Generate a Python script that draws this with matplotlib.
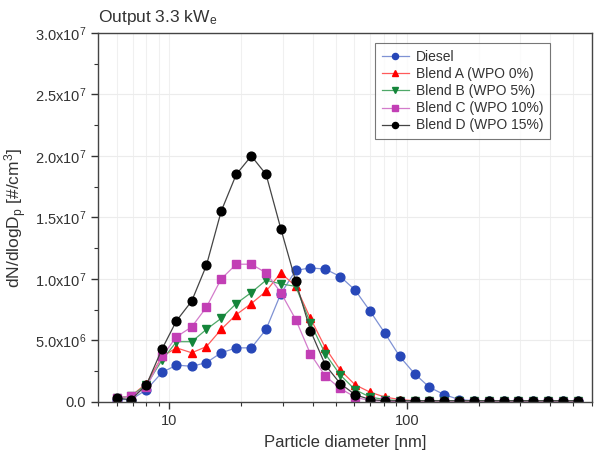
import numpy as np
import matplotlib
matplotlib.use("Agg")
import matplotlib.pyplot as plt
from matplotlib.ticker import FuncFormatter, MultipleLocator, LogLocator, NullFormatter

plt.rcParams['font.family'] = ['Liberation Sans', 'DejaVu Sans']
plt.rcParams['mathtext.fontset'] = 'custom'
plt.rcParams['mathtext.rm'] = 'Liberation Sans'
plt.rcParams['mathtext.it'] = 'Liberation Sans'

# SMPS channel diameters [nm]
diam = [6.0, 6.9, 8.0, 9.3, 10.7, 12.4, 14.3, 16.5, 19.1, 22.1, 25.5, 29.4,
        34.0, 39.2, 45.3, 52.3, 60.4, 69.8, 80.6, 93.1, 107.5, 124.1, 143.3,
        165.5, 191.1, 220.7, 254.8, 294.3, 339.8, 392.4, 453.1, 523.3]

# dN/dlogDp, in units of 1e7 #/cm3
diesel = [0.02, 0.02, 0.10, 0.24, 0.30, 0.29, 0.32, 0.40, 0.44, 0.44, 0.59, 0.88,
          1.07, 1.09, 1.08, 1.02, 0.91, 0.74, 0.56, 0.37, 0.23, 0.12, 0.06, 0.02,
          0.01, 0.01, 0.01, 0.01, 0.01, 0.01, 0.01, 0.01]
blend_a = [0.03, 0.05, 0.15, 0.37, 0.44, 0.40, 0.45, 0.59, 0.71, 0.80, 0.90, 1.05,
           0.94, 0.68, 0.44, 0.26, 0.14, 0.08, 0.04, 0.02, 0.01, 0.01, 0.01, 0.01,
           0.01, 0.01, 0.01, 0.01, 0.01, 0.01, 0.01, 0.01]
blend_b = [0.03, 0.05, 0.14, 0.34, 0.49, 0.49, 0.59, 0.68, 0.80, 0.89, 0.99, 0.96,
           0.94, 0.64, 0.39, 0.22, 0.10, 0.04, 0.02, 0.01, 0.01, 0.01, 0.01, 0.01,
           0.01, 0.01, 0.01, 0.01, 0.01, 0.01, 0.01, 0.01]
blend_c = [0.03, 0.05, 0.12, 0.37, 0.53, 0.61, 0.77, 1.00, 1.12, 1.12, 1.05, 0.89,
           0.67, 0.39, 0.21, 0.11, 0.04, 0.01, 0.01, 0.00, 0.00, 0.00, 0.00, 0.00,
           0.00, 0.00, 0.00, 0.00, 0.00, 0.00, 0.00, 0.00]
blend_d = [0.03, 0.02, 0.14, 0.43, 0.66, 0.82, 1.11, 1.55, 1.85, 2.00, 1.85, 1.41,
           0.98, 0.58, 0.30, 0.15, 0.06, 0.02, 0.01, 0.01, 0.01, 0.01, 0.01, 0.01,
           0.01, 0.01, 0.01, 0.01, 0.01, 0.01, 0.01, 0.01]

series = [
    ("Diesel", diesel, '#2747b8', '#7f92d4', 'o'),
    ("Blend A (WPO 0%)", blend_a, '#ff0000', '#ff5a5a', '^'),
    ("Blend B (WPO 5%)", blend_b, '#14853a', '#4fa868', 'v'),
    ("Blend C (WPO 10%)", blend_c, '#c23fb5', '#d37ccb', 's'),
    ("Blend D (WPO 15%)", blend_d, '#000000', '#444444', 'o'),
]

fig = plt.figure(figsize=(6.01, 4.53), dpi=100)
ax = fig.add_axes([0.163, 0.1126, 0.822, 0.8147])

x = np.array(diam)
for name, vals, col, lcol, mk in series:
    ax.plot(x, np.array(vals) * 1e7, color=lcol, lw=0.9, marker=mk, ms=6.3,
            mec=col, mfc=col, label=name)

ax.set_xscale('log')
ax.set_xlim(5, 600)
ax.set_ylim(0, 3.0e7)

ax.yaxis.set_major_locator(MultipleLocator(0.5e7))
ax.yaxis.set_minor_locator(MultipleLocator(0.25e7))


def yfmt(v, pos):
    if v <= 0:
        return "0.0"
    e = int(np.floor(np.log10(v) + 1e-9))
    m = v / 10**e
    return r"%.1fx10$^{%d}$" % (m, e)


ax.yaxis.set_major_formatter(FuncFormatter(yfmt))
ax.xaxis.set_major_locator(LogLocator(base=10, numticks=10))
ax.xaxis.set_minor_locator(LogLocator(base=10, subs=np.arange(2, 10), numticks=20))
ax.xaxis.set_minor_formatter(NullFormatter())
ax.xaxis.set_major_formatter(FuncFormatter(lambda v, p: "%d" % v))

ax.tick_params(which='both', direction='out', top=False, right=False,
               labelsize=10.5, colors='#333333')
ax.tick_params(which='major', length=5, width=1.0)
ax.tick_params(which='minor', length=3, width=0.8)
for s in ax.spines.values():
    s.set_color('#444444')
    s.set_linewidth(1.0)

ax.grid(True, which='major', axis='y', color='#ececec', lw=0.8)
ax.grid(True, which='both', axis='x', color='#f0f0f0', lw=0.8)
ax.set_axisbelow(True)

ax.set_xlabel("Particle diameter [nm]", fontsize=12, color='#333333', labelpad=5)
ax.set_ylabel(r"dN/dlogD$_{p}$ [#/cm$^{3}$]", fontsize=12.5, color='#333333', labelpad=5)
ax.yaxis.set_label_coords(-0.14, 0.5)
fig.text(0.163, 0.94, r"Output 3.3 kW$_{e}$", fontsize=12.5, color='#333333',
         ha='left', va='bottom')

leg = ax.legend(loc='upper right', bbox_to_anchor=(0.915, 0.972), fontsize=10,
                frameon=True, fancybox=False, borderpad=0.5, labelspacing=0.22,
                handlelength=2.0, handletextpad=0.45, markerscale=0.7,
                borderaxespad=0.0)
leg.get_frame().set_edgecolor('#555555')
leg.get_frame().set_linewidth(0.8)
for t in leg.get_texts():
    t.set_color('#333333')

fig.savefig("out.png", dpi=100)
